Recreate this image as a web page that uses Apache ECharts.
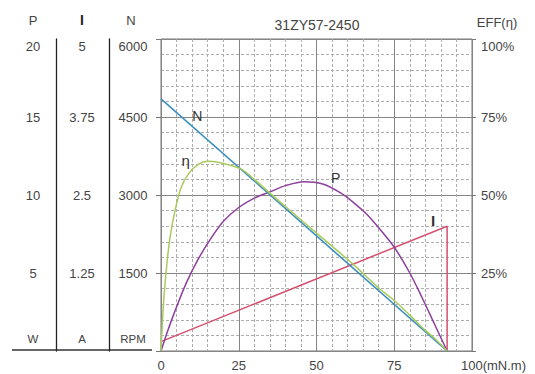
<!DOCTYPE html>
<html><head><meta charset="utf-8">
<script src="https://cdn.jsdelivr.net/npm/echarts@6/dist/echarts.min.js"></script>
<style>html,body{margin:0;padding:0;background:#fff}#c{width:535px;height:374px}</style>
</head><body><div id="c"></div>
<script>
// ---- data ----
const chartTitle = '31ZY57-2450';
const effTitle = 'EFF(η)';
const headers = ['P', 'I', 'N'];
const units = ['W', 'A', 'RPM'];
const xUnit = '(mN.m)';
const nTorque = [0, 92];
const nSpeed = [4850, 0];
const iTorque = [0, 92, 92];
const iCurrent = [0.15, 2.0, 0];
const pTorque = [0, 2, 4, 8, 12, 16, 20, 25, 30, 35, 40, 46, 52, 58, 62, 66, 70, 75, 80, 84, 88, 92];
const pPower  = [0, 1.2, 2.3, 4.3, 5.9, 7.2, 8.3, 9.2, 9.8, 10.2, 10.6, 10.85, 10.7, 10.1, 9.5, 8.8, 7.9, 6.65, 5.0, 3.4, 1.7, 0];
const eTorque = [0, 0.5, 1, 2, 3, 4.5, 6.5, 9, 12, 15, 18, 22, 26, 30, 35, 40, 46, 55, 62, 70, 75, 80, 85, 88, 92];
const eEff    = [0, 10, 18, 29, 37, 45, 52.5, 57, 59.8, 60.8, 60.6, 59.6, 58.2, 55.0, 50.6, 46.3, 41.2, 33.6, 27.6, 20.2, 16.2, 11.5, 6.6, 4.0, 0];
const curveLabels = { N: [11.7, 4525], eta: [7.9, 61.2], P: [56.2, 11.07], I: [87.5, 2.09] };

// ---- chart ----
const pairs = (xs, ys) => xs.map((x, i) => [x, ys[i]]);
const lblColor = '#444';
const FONT = 'Liberation Sans, Arial, sans-serif';

function leftFmt(max, unit) {
  return function (v) {
    if (v === max) return '{t|' + v + '}';
    if (v === 0) return '{u|' + unit + '}';
    return String(v);
  };
}
const leftRich = {
  t: { padding: [14, 0, 0, 0], fontSize: 13, color: lblColor, fontFamily: FONT },
  u: { padding: [0, 0, 24, 0], fontSize: 11.5, color: lblColor, fontFamily: FONT }
};

function mark(coord, text, bold, size) {
  return {
    symbol: 'circle', symbolSize: 1, itemStyle: { color: 'rgba(0,0,0,0)' },
    label: { show: true, position: 'inside', formatter: text, fontSize: size || 14,
      fontWeight: bold ? 'bold' : 'normal', color: '#333', fontFamily: FONT },
    data: [{ coord: coord }]
  };
}

const chart = echarts.init(document.getElementById('c'), null, { renderer: 'svg' });
chart.setOption({
  animation: false,
  backgroundColor: '#fff',
  textStyle: { fontFamily: FONT },
  title: [
    { text: chartTitle, left: 317, top: 17.5, textAlign: 'center', padding: 0,
      textStyle: { fontSize: 14, fontWeight: 'normal', color: lblColor, fontFamily: FONT } },
    { text: effTitle, left: 497, top: 15.5, textAlign: 'center', padding: 0,
      textStyle: { fontSize: 13, fontWeight: 'normal', color: lblColor, fontFamily: FONT } },
    { text: headers[0], left: 33, top: 13.5, textAlign: 'center', padding: 0,
      textStyle: { fontSize: 13, fontWeight: 'normal', color: lblColor, fontFamily: FONT } },
    { text: headers[1], left: 82, top: 13, textAlign: 'center', padding: 0,
      textStyle: { fontSize: 14, fontWeight: 'bold', color: '#222', fontFamily: FONT } },
    { text: headers[2], left: 131, top: 13.5, textAlign: 'center', padding: 0,
      textStyle: { fontSize: 13, fontWeight: 'normal', color: lblColor, fontFamily: FONT } }
  ],
  graphic: [
    { type: 'line', shape: { x1: 12, y1: 350, x2: 152, y2: 350 }, style: { stroke: '#333', lineWidth: 1.3 } }
  ],
  grid: { left: 161, right: 63, top: 39, bottom: 23, show: true, borderColor: '#777', borderWidth: 1, backgroundColor: 'transparent' },
  xAxis: [
    { type: 'value', min: 0, max: 100, interval: 5, position: 'bottom',
      axisLine: { show: false }, axisTick: { show: false }, axisLabel: { show: false },
      splitLine: { show: true, lineStyle: { color: '#adadad', type: [3, 2], width: 1 } } },
    { type: 'value', min: 0, max: 100, interval: 25, position: 'bottom',
      axisLine: { show: false }, axisTick: { show: false },
      splitLine: { show: true, lineStyle: { color: '#858585', width: 1 } },
      axisLabel: { margin: 8, fontSize: 13, color: lblColor, fontFamily: FONT,
        formatter: v => v === 100 ? '{e|' + v + xUnit + '}' : String(v),
        rich: { e: { padding: [0, 0, 0, 43], fontSize: 13, color: lblColor, fontFamily: FONT } } } }
  ],
  yAxis: [
    { type: 'value', min: 0, max: 6000, interval: 300, position: 'left',
      axisLine: { show: false }, axisTick: { show: false }, axisLabel: { show: false },
      splitLine: { show: true, lineStyle: { color: '#adadad', type: [3, 2], width: 1 } } },
    { type: 'value', min: 0, max: 6000, interval: 1500, position: 'left', offset: 0,
      axisLine: { show: false },
      axisTick: { show: true, length: 5, lineStyle: { color: '#777' } },
      splitLine: { show: true, lineStyle: { color: '#858585', width: 1 } },
      axisLabel: { align: 'center', margin: 28, fontSize: 13, color: lblColor, fontFamily: FONT,
        formatter: leftFmt(6000, units[2]), rich: leftRich } },
    { type: 'value', min: 0, max: 20, interval: 5, position: 'left', offset: 105,
      axisLine: { show: true, lineStyle: { color: '#222', width: 1.3 } },
      axisTick: { show: false }, splitLine: { show: false },
      axisLabel: { align: 'center', margin: 23, fontSize: 13, color: lblColor, fontFamily: FONT,
        formatter: leftFmt(20, units[0]), rich: leftRich } },
    { type: 'value', min: 0, max: 5, interval: 1.25, position: 'left', offset: 52,
      axisLine: { show: true, lineStyle: { color: '#222', width: 1.3 } },
      axisTick: { show: false }, splitLine: { show: false },
      axisLabel: { align: 'center', margin: 27, fontSize: 13, color: lblColor, fontFamily: FONT,
        formatter: leftFmt(5, units[1]), rich: leftRich } },
    { type: 'value', min: 0, max: 100, interval: 25, position: 'right', offset: 0,
      axisLine: { show: false },
      axisTick: { show: true, length: 4, lineStyle: { color: '#777' } },
      splitLine: { show: false },
      axisLabel: { align: 'left', margin: 9, fontSize: 13, color: lblColor, fontFamily: FONT,
        formatter: v => v === 0 ? '' : (v === 100 ? '{t|' + v + '%}' : v + '%'),
        rich: { t: { padding: [14, 0, 0, 0], fontSize: 13, color: lblColor, fontFamily: FONT } } } }
  ],
  series: [
    { name: 'I', type: 'line', xAxisIndex: 1, yAxisIndex: 3, data: pairs(iTorque, iCurrent),
      showSymbol: false, lineStyle: { color: '#d4506e', width: 1.5 },
      markPoint: mark(curveLabels.I, 'I', true, 15) },
    { name: 'P', type: 'line', xAxisIndex: 1, yAxisIndex: 2, data: pairs(pTorque, pPower),
      smooth: 0.3, showSymbol: false, lineStyle: { color: '#8d3f9c', width: 1.5 },
      markPoint: mark(curveLabels.P, 'P') },
    { name: 'N', type: 'line', xAxisIndex: 1, yAxisIndex: 1, data: pairs(nTorque, nSpeed),
      showSymbol: false, lineStyle: { color: '#3b8ec0', width: 1.6 },
      markPoint: mark(curveLabels.N, 'N') },
    { name: 'η', type: 'line', xAxisIndex: 1, yAxisIndex: 4, data: pairs(eTorque, eEff),
      smooth: 0.3, showSymbol: false, lineStyle: { color: '#a9ca5c', width: 1.5 },
      markPoint: mark(curveLabels.eta, 'η', false, 15) }
  ]
});
</script></body></html>
